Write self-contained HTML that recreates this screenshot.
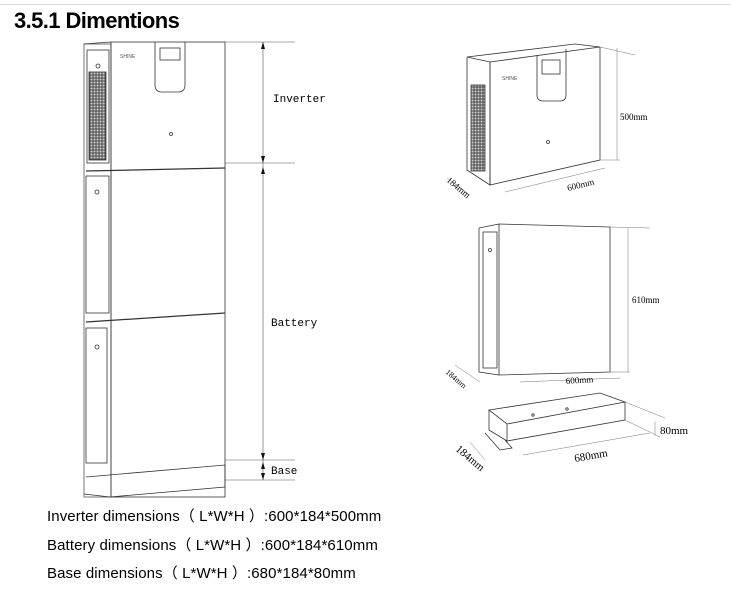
<!DOCTYPE html>
<html><head><meta charset="utf-8"><style>
html,body{margin:0;padding:0;background:#fff;}
body{width:731px;height:591px;position:relative;overflow:hidden;font-family:"Liberation Sans",sans-serif;}
.t{position:absolute;left:14px;top:8px;font-size:22px;font-weight:bold;letter-spacing:-0.6px;color:#000;}
.l{position:absolute;left:47px;font-size:15px;color:#000;font-family:"Liberation Sans","Noto Sans CJK SC",sans-serif;letter-spacing:0.1px;}
svg{position:absolute;left:0;top:0;}
</style></head><body>
<div style="position:absolute;left:0;top:4px;width:731px;height:1px;background:#ddd"></div>
<div class="t">3.5.1 Dimentions</div>
<svg width="731" height="591" viewBox="0 0 731 591" fill="none" stroke="#333" stroke-width="0.8">
<defs><pattern id="g" width="3" height="3" patternUnits="userSpaceOnUse"><rect width="3" height="3" fill="#ccc"/><path d="M0 0H3M0 0V3" stroke="#444" stroke-width="0.8"/></pattern></defs>
<rect x="84" y="44" width="27" height="453" stroke="#555"/>
<rect x="111" y="42" width="114" height="455"/>
<line x1="84" y1="44" x2="111" y2="42"/>
<rect x="87" y="50" width="22" height="113"/>
<rect x="89" y="72" width="17" height="88" fill="url(#g)" stroke="#333"/>
<path d="M155 42 V85 Q155 92 162 92 H178 Q185 92 185 85 V42"/>
<rect x="160" y="48" width="20" height="12"/>
<circle cx="98" cy="66" r="2"/><circle cx="171" cy="134" r="1.5"/>
<text x="120" y="58" font-size="5" fill="#555" stroke="none">SHINE</text>
<line x1="86" y1="171" x2="225" y2="168" stroke-width="1.3"/>
<rect x="86" y="176" width="23" height="137"/>
<circle cx="97" cy="192" r="2"/>
<line x1="86" y1="322" x2="225" y2="313" stroke-width="1.3"/>
<rect x="86" y="328" width="21" height="135"/>
<circle cx="97" cy="347" r="2"/>
<path d="M86 477 L225 465 L225 487 L110 497 L84 494"/>
<g stroke="#555" stroke-width="0.6">
<line x1="263" y1="42" x2="263" y2="480"/>
<line x1="225" y1="42" x2="295" y2="42"/>
<line x1="225" y1="163" x2="295" y2="163"/>
<line x1="225" y1="460" x2="295" y2="460"/>
<line x1="225" y1="480" x2="295" y2="480"/>
</g>
<g fill="#111" stroke="none">
<path d="M263 42 l-2 7 h4z"/><path d="M263 163 l-2 -7 h4z"/><path d="M263 167 l-2 7 h4z"/>
<path d="M263 460 l-2 -7 h4z"/><path d="M263 462 l-2 7 h4z"/><path d="M263 480 l-2 -7 h4z"/>
</g>
<g font-family="Liberation Mono,monospace" font-size="11" fill="#000" stroke="none">
<text x="273" y="102">Inverter</text>
<text x="271" y="326">Battery</text>
<text x="271" y="474">Base</text>
</g>
<path d="M467 57 L490 62 L600 47 L575 44 Z"/>
<path d="M467 57 V170 L490 185 V62"/>
<path d="M490 62 V185 L600 160 V47"/>
<rect x="471" y="85" width="14" height="86" fill="url(#g)" stroke="#333"/>
<path d="M537 55 V95 Q537 101 543 101 H560 Q566 101 566 95 V49"/>
<rect x="542" y="60" width="18" height="14"/>
<circle cx="548" cy="142" r="1.5"/>
<text x="502" y="80" font-size="5" fill="#555" stroke="none">SHINE</text>
<g stroke="#777" stroke-width="0.5">
<line x1="600" y1="47" x2="635" y2="55"/><line x1="617" y1="48" x2="617" y2="160"/><line x1="600" y1="160" x2="620" y2="160"/>
<line x1="505" y1="192" x2="605" y2="168"/><line x1="447" y1="178" x2="470" y2="195"/>
</g>
<path d="M479 228 L499 224 L610 227"/>
<path d="M479 228 V372 L499 375"/>
<rect x="483" y="232" width="14" height="136"/>
<path d="M499 224 V375 L610 372 V227"/>
<circle cx="490" cy="250" r="1.5"/>
<g stroke="#777" stroke-width="0.5">
<line x1="610" y1="227" x2="650" y2="228"/><line x1="628" y1="228" x2="628" y2="372"/><line x1="610" y1="372" x2="630" y2="372"/>
<line x1="520" y1="382" x2="620" y2="378"/><line x1="455" y1="365" x2="480" y2="382"/>
</g>
<path d="M489 410 L600 393 L625 402 L507 424 Z"/>
<path d="M489 410 V430 L507 441 V424"/>
<path d="M507 441 L625 420 V402"/>
<path d="M485 433 L500 450 L512 448 L505 440"/>
<circle cx="533" cy="415" r="1.2"/><circle cx="567" cy="409" r="1.2"/>
<g stroke="#777" stroke-width="0.5">
<line x1="625" y1="402" x2="665" y2="418"/><line x1="625" y1="420" x2="660" y2="437"/><line x1="655" y1="422" x2="655" y2="436"/>
<line x1="523" y1="455" x2="650" y2="433"/><line x1="470" y1="442" x2="485" y2="460"/>
</g>
<g font-family="Liberation Serif,serif" fill="#000" stroke="none">
<text x="620" y="120" font-size="9">500mm</text>
<text x="568" y="191" font-size="9" transform="rotate(-14 568 191)">600mm</text>
<text x="446" y="181" font-size="9" transform="rotate(40 446 181)">184mm</text>
<text x="632" y="303" font-size="9">610mm</text>
<text x="566" y="384" font-size="9" transform="rotate(-4 566 384)">600mm</text>
<text x="445" y="373" font-size="8" transform="rotate(40 445 373)">184mm</text>
<text x="660" y="434" font-size="11">80mm</text>
<text x="575" y="462" font-size="11" transform="rotate(-10 575 462)">680mm</text>
<text x="455" y="450" font-size="11" transform="rotate(40 455 450)">184mm</text>
</g>
</svg>
<div class="l" style="top:505px">Inverter dimensions（ L*W*H ）:600*184*500mm</div>
<div class="l" style="top:534px">Battery dimensions（ L*W*H ）:600*184*610mm</div>
<div class="l" style="top:562px">Base dimensions（ L*W*H ）:680*184*80mm</div>
</body></html>
